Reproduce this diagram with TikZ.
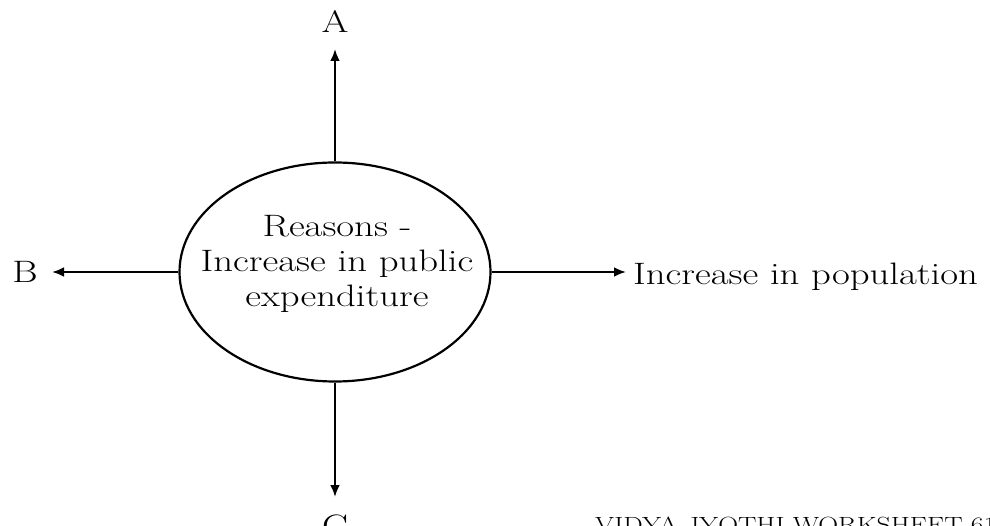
\documentclass[tikz,border=0pt]{standalone}
\usepackage{fontspec}
\setmainfont{Latin Modern Roman}[FakeStretch=1.25]
\usepackage{tikz}
\usetikzlibrary{shapes.geometric, arrows.meta, positioning}

\begin{document}
\begin{tikzpicture}[x=1pt, y=-1pt,
    strzalka/.style={-{Latex[length=12pt,width=10pt]}, line width=2.4pt},
    etykieta/.style={font=\fontsize{31}{35}\selectfont, inner sep=0pt},
    powodstyl/.style={ellipse, draw, line width=2.2pt, minimum width=311pt,
                      minimum height=219pt, inner sep=0pt}]
  % tło i ramka obrazka
  \useasboundingbox (0,0) rectangle (990,526);
  \fill[white] (0,0) rectangle (990,526);
  % elipsa w środku
  \node[powodstyl] (powod) at (335,272) {};
  \node[etykieta, align=center, anchor=base] (tekst) at (337,307)
    {Reasons -\\Increase in public\\expenditure};
  % etykiety na końcach strzałek
  \node[etykieta, anchor=base] (A) at (335,33) {A};
  \node[etykieta, anchor=base] (B) at (25,283) {B};
  \node[etykieta, anchor=base] (C) at (335,536) {C};
  \node[etykieta, anchor=base west] (ludnosc) at (633,285) {Increase in population};
  % końce strzałek
  \coordinate (gora)  at (335,49);
  \coordinate (lewo)  at (52,272);
  \coordinate (prawo) at (626,272);
  \coordinate (dol)   at (335,497);
  % strzałki
  \draw[strzalka] (powod.north) -- (gora);
  \draw[strzalka] (powod.west) -- (lewo);
  \draw[strzalka] (powod.east) -- (prawo);
  \draw[strzalka] (powod.south) -- (dol);
  % napis w rogu
  \node[font=\fontsize{22}{25}\selectfont, anchor=base west, inner sep=0pt] (znak) at (595,532)
    {VIDYA JYOTHI WORKSHEET 61};
\end{tikzpicture}
\end{document}
